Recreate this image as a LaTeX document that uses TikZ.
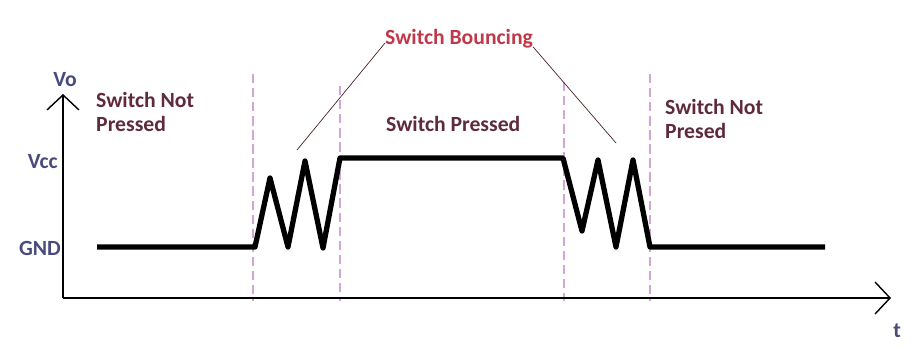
\documentclass[tikz,border=0pt]{standalone}
\usepackage{fontspec}
\setmainfont{Carlito}
\usepackage{tikz}
\usetikzlibrary{arrows.meta}
\definecolor{labelblue}{HTML}{4A4A7E}
\definecolor{textplum}{HTML}{5E2A3C}
\definecolor{bouncered}{HTML}{C0394B}
\definecolor{leadbrown}{HTML}{4A2424}
\definecolor{markpink}{HTML}{D2A6D2}

\begin{document}
\begin{tikzpicture}[x=0.03cm, y=-0.03cm,
    axislabel/.style={font=\fontsize{18.5}{21}\selectfont\bfseries, text=labelblue, inner sep=0pt},
    region/.style={font=\fontsize{18.5}{21.3}\selectfont\bfseries, text=textplum, inner sep=0pt, align=left},
    marker/.style={markpink, line width=1.4pt, dash pattern=on 8pt off 4pt},
    axisline/.style={line width=1.5pt, -{Straight Barb[length=4.5mm, width=9.6mm, line width=1.2pt]}},
    signal/.style={line width=4.5pt, line join=round}]
  \useasboundingbox (0,0) rectangle (918,349);
  \fill[white] (0,0) rectangle (918,349);

  % Phase markers
  \foreach \x/\top in {253/74, 340/86, 564/82, 650/74} {
    \draw[marker] (\x,\top) -- (\x,301);
  }

  % Axes
  \draw[axisline] (63,298) -- (63,94);
  \draw[axisline] (63,298) -- (891,298);
  \node[axislabel, anchor=base] (vo) at (65,87) {Vo};
  \node[axislabel, anchor=base east] (vcc) at (58,169) {Vcc};
  \node[axislabel, anchor=base east] (gnd) at (61,256) {GND};
  \node[axislabel, anchor=base] (tlabel) at (897,338) {t};

  % Output voltage
  \draw[signal] (97,247) -- (255,247) -- (270,178) -- (288,247) -- (305,161)
    -- (323,248) -- (340,158) -- (563,158) -- (582,231) -- (598,160)
    -- (616,247) -- (633,160) -- (650,247) -- (825,247);

  % Region labels
  \node[region, anchor=base west] (notpressed) at (96,132) {Switch Not\\Pressed};
  \node[region, anchor=base west] (pressed) at (386,132) {Switch Pressed};
  \node[region, anchor=base west] (notpressed2) at (665,139) {Switch Not\\Presed};

  % Bouncing callout
  \node[region, text=bouncered, anchor=base west] (bouncing) at (385,45) {Switch Bouncing};
  \coordinate (bounce1) at (297,150);
  \coordinate (bounce2) at (616,143);
  \draw[leadbrown, line width=0.6pt] (bouncing.base west) ++(0,-2) -- (bounce1);
  \draw[leadbrown, line width=0.6pt] (bouncing.base east) ++(0,2) -- (bounce2);
\end{tikzpicture}
\end{document}
